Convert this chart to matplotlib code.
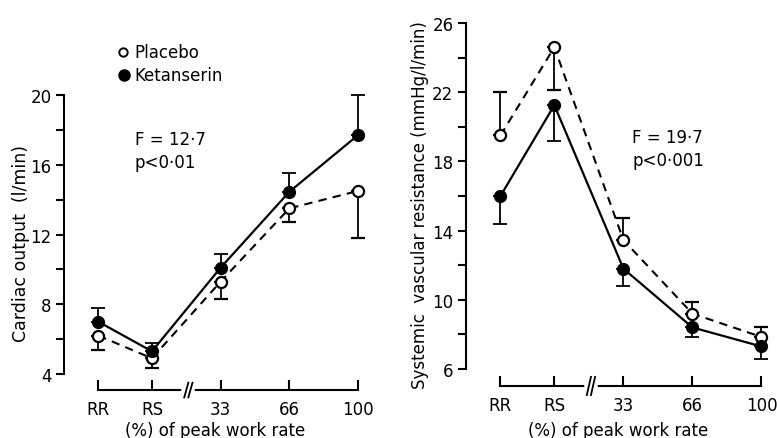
import matplotlib
matplotlib.use("Agg")
import matplotlib.pyplot as plt
import numpy as np

# x categories (RR, RS, then % of peak work rate)
x_labels = ["RR", "RS", "33", "66", "100"]
x_pos = [0, 0.78, 1.78, 2.78, 3.78]
x_break = 1.31

# cardiac output (l/min): means and error bar ends
co_ket = [7.0, 5.3, 10.1, 14.45, 17.7]
co_ket_bar = [7.8, 5.8, 10.9, 15.5, 20.0]
co_pla = [6.2, 4.9, 9.3, 13.5, 14.5]
co_pla_bar = [5.4, 4.35, 8.3, 12.7, 11.8]

# systemic vascular resistance (mmHg/l/min)
svr_pla = [19.5, 24.6, 13.45, 9.2, 7.85]
svr_pla_bar = [22.0, 22.1, 14.7, 9.9, 8.4]
svr_ket = [16.0, 21.25, 11.8, 8.4, 7.3]
svr_ket_bar = [14.4, 19.2, 10.8, 7.85, 6.6]

plt.rcParams["font.family"] = "DejaVu Sans"
plt.rcParams["font.size"] = 12

fig = plt.figure(figsize=(7.77, 4.39), dpi=100)
ax1 = fig.add_axes([0.0824, 0.1093, 0.389, 0.672])
ax2 = fig.add_axes([0.5997, 0.1185, 0.391, 0.8269])


def err(mean, bar):
    mean = np.array(mean)
    bar = np.array(bar)
    lo = np.where(bar < mean, mean - bar, 0)
    hi = np.where(bar > mean, bar - mean, 0)
    return [lo, hi]


def draw(ax, ket, ket_bar, pla, pla_bar, ymin, ymax, ylow, lpad):
    ax.errorbar(x_pos, pla, yerr=err(pla, pla_bar), color="black", lw=1.5,
                ls=(0, (4, 3)), marker="o", ms=8, mfc="white", mec="black",
                mew=1.6, capsize=5, elinewidth=1.3, capthick=1.3,
                clip_on=False, zorder=3)
    ax.errorbar(x_pos, ket, yerr=err(ket, ket_bar), color="black", lw=1.6,
                marker="o", ms=8.5, mfc="black", mec="black",
                capsize=5, elinewidth=1.3, capthick=1.3,
                clip_on=False, zorder=4)
    ax.set_xlim(-0.5, 3.9)
    ax.set_ylim(ylow, ymax)
    for s in ["top", "right"]:
        ax.spines[s].set_visible(False)
    ax.spines["left"].set_bounds(ymin, ymax)
    ax.spines["bottom"].set_bounds(x_pos[0], x_pos[-1])
    ax.spines["left"].set_linewidth(1.5)
    ax.spines["bottom"].set_linewidth(1.5)
    ticks = np.arange(ymin, ymax + 1, 2)
    ax.set_yticks(ticks)
    ax.set_yticklabels([str(int(t)) if (t - ymin) % 4 == 0 else "" for t in ticks])
    ax.tick_params(axis="y", direction="out", length=6, width=1.5, pad=3)
    ax.set_xticks(x_pos)
    ax.set_xticklabels(x_labels)
    ax.tick_params(axis="x", direction="in", length=7, width=1.5, pad=7)
    # axis break
    trans = ax.get_xaxis_transform()
    ax.plot([x_break - 0.06, x_break + 0.06], [0, 0], color="white", lw=4,
            transform=trans, clip_on=False, zorder=5)
    for dx in (-0.03, 0.03):
        ax.plot([x_break + dx - 0.03, x_break + dx + 0.03], [-0.025, 0.025],
                color="black", lw=1.3, transform=trans, clip_on=False, zorder=6)
    ax.set_xlabel("(%) of peak work rate", labelpad=lpad)


draw(ax1, co_ket, co_ket_bar, co_pla, co_pla_bar, 4, 20, 3.083, 2)
draw(ax2, svr_ket, svr_ket_bar, svr_pla, svr_pla_bar, 6, 26, 5.017, 5)

ax1.set_ylabel("Cardiac output  (l/min)", labelpad=0, fontsize=12.5)
ax2.set_ylabel("Systemic  vascular resistance (mmHg/l/min)", labelpad=2)

fig.text(135 / 777, 1 - 140 / 439, "F = 12·7", fontsize=12, va="center")
fig.text(135 / 777, 1 - 163 / 439, "p<0·01", fontsize=12, va="center")
fig.text(632 / 777, 1 - 138 / 439, "F = 19·7", fontsize=12, va="center")
fig.text(632 / 777, 1 - 161 / 439, "p<0·001", fontsize=12, va="center")

# legend
fig.lines.append(plt.Line2D([123 / 777], [1 - 53 / 439], marker="o", ms=6,
                            mfc="white", mec="black", mew=1.4,
                            transform=fig.transFigure))
fig.lines.append(plt.Line2D([124 / 777], [1 - 76 / 439], marker="o", ms=8,
                            mfc="black", mec="black",
                            transform=fig.transFigure))
fig.text(134 / 777, 1 - 53 / 439, "Placebo", fontsize=12, va="center")
fig.text(134 / 777, 1 - 76 / 439, "Ketanserin", fontsize=12, va="center")

fig.savefig("out.png", dpi=100)
